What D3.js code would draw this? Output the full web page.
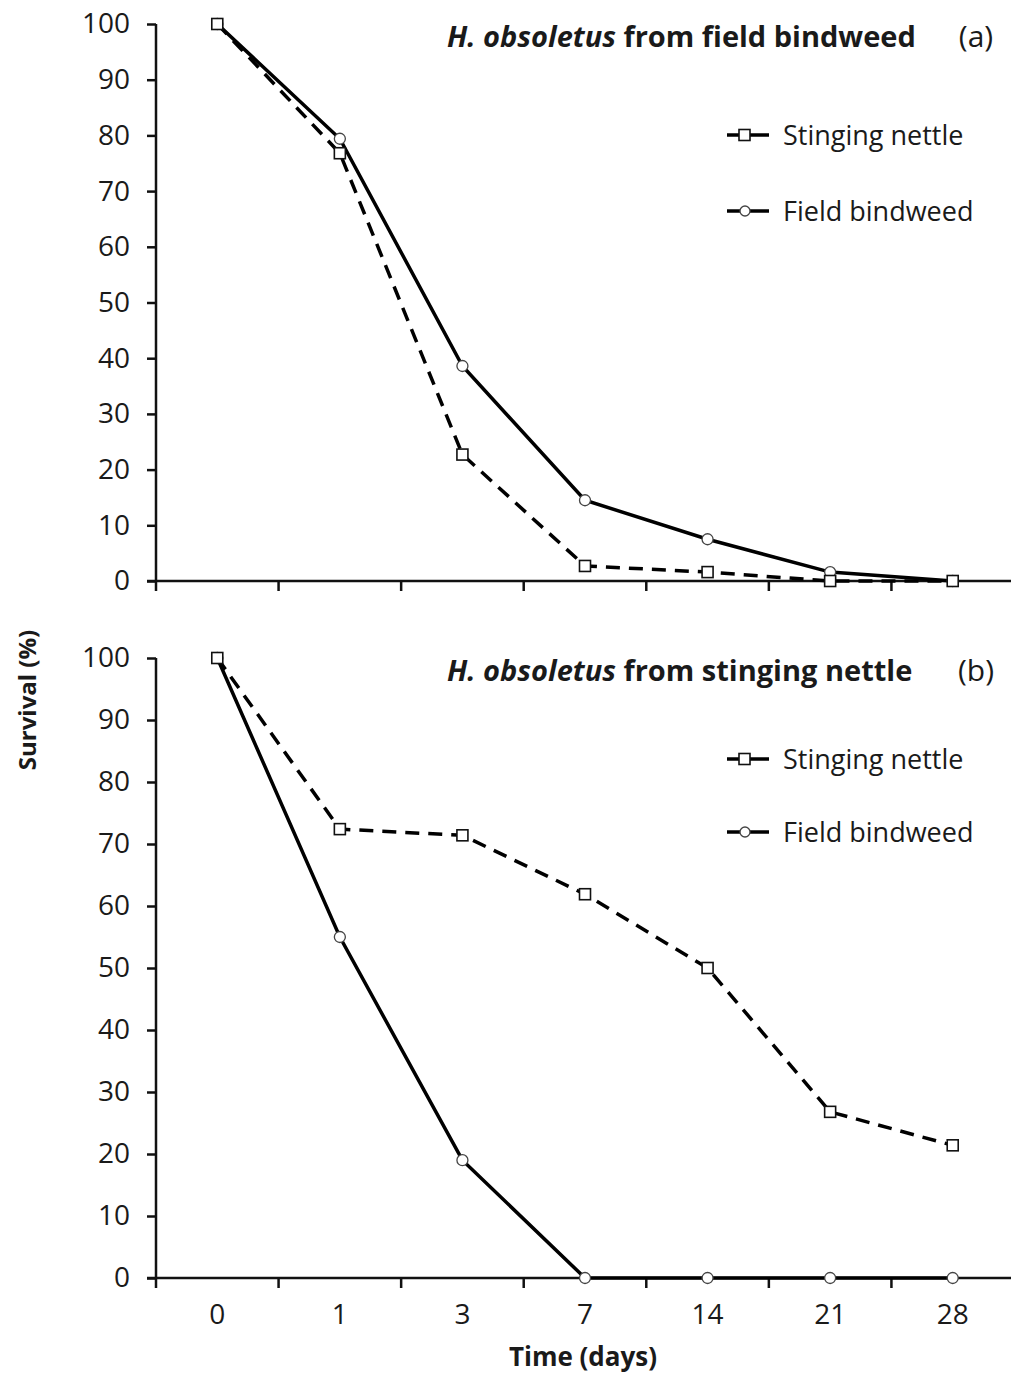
<!DOCTYPE html>
<html>
<head>
<meta charset="utf-8">
<script src="https://cdn.jsdelivr.net/npm/d3@7"></script>
<style>
  body { margin: 0; background: #fff; }
  svg text { font-family: "Open Sans", "Liberation Sans", sans-serif; fill: #1a1a1a; }
</style>
</head>
<body>
<svg id="chart" width="1011" height="1374"></svg>
<script>
// categories on the x axis (days)
var days = ["0", "1", "3", "7", "14", "21", "28"];
var yTicks = [0, 10, 20, 30, 40, 50, 60, 70, 80, 90, 100];

// panel (a): H. obsoletus from field bindweed
var nettleA = [100, 76.8, 22.7, 2.7, 1.6, 0, 0];
var bindweedA = [100, 79.4, 38.6, 14.5, 7.5, 1.6, 0];

// panel (b): H. obsoletus from stinging nettle
var nettleB = [100, 72.4, 71.4, 61.9, 50, 26.8, 21.4];
var bindweedB = [100, 55, 19, 0, 0, 0, 0];

var svg = d3.select("#chart");

var x = d3.scaleBand()
  .domain(days)
  .range([156, 1014]);

function drawPanel(top, bottom, nettle, bindweed, titleText, tag, legendY, showXLabels) {
  var y = d3.scaleLinear().domain([0, 100]).range([bottom, top]);
  var g = svg.append("g");

  // y axis
  var yAxis = g.append("g")
    .attr("transform", "translate(156,0)")
    .call(d3.axisLeft(y).tickValues(yTicks).tickSize(9).tickPadding(17).tickSizeOuter(0));
  yAxis.select(".domain").attr("stroke", "#111").attr("stroke-width", 2.5)
    .attr("d", "M0," + y(100) + "V" + y(0));
  yAxis.selectAll(".tick line").attr("stroke", "#111").attr("stroke-width", 2.5);
  yAxis.selectAll(".tick text").style("font-size", "28px").attr("fill", "#1a1a1a");

  // x axis line + ticks at band boundaries
  g.append("line")
    .attr("x1", 147).attr("x2", 1011)
    .attr("y1", y(0)).attr("y2", y(0))
    .attr("stroke", "#111").attr("stroke-width", 2.5);
  g.selectAll(".xtick")
    .data(days)
    .enter()
    .append("line")
    .attr("x1", function(d) { return x(d); })
    .attr("x2", function(d) { return x(d); })
    .attr("y1", y(0))
    .attr("y2", y(0) + 10)
    .attr("stroke", "#111").attr("stroke-width", 2.5);

  if (showXLabels) {
    g.selectAll(".xlab")
      .data(days)
      .enter()
      .append("text")
      .attr("x", function(d) { return x(d) + x.bandwidth() / 2; })
      .attr("y", y(0) + 46)
      .attr("text-anchor", "middle")
      .style("font-size", "28px")
      .text(function(d) { return d; });
  }

  var line = d3.line()
    .x(function(d, i) { return x(days[i]) + x.bandwidth() / 2; })
    .y(function(d) { return y(d); });

  g.append("path")
    .datum(nettle)
    .attr("d", line)
    .attr("fill", "none")
    .attr("stroke", "#000")
    .attr("stroke-width", 3.5)
    .attr("stroke-dasharray", "14,9");

  g.append("path")
    .datum(bindweed)
    .attr("d", line)
    .attr("fill", "none")
    .attr("stroke", "#000")
    .attr("stroke-width", 3.5);

  // markers
  g.selectAll(".circ")
    .data(bindweed)
    .enter()
    .append("circle")
    .attr("cx", function(d, i) { return x(days[i]) + x.bandwidth() / 2; })
    .attr("cy", function(d) { return y(d); })
    .attr("r", 5.5)
    .attr("fill", "#fff")
    .attr("stroke", "#444")
    .attr("stroke-width", 1.3);

  g.selectAll(".sq")
    .data(nettle)
    .enter()
    .append("rect")
    .attr("x", function(d, i) { return x(days[i]) + x.bandwidth() / 2 - 5.5; })
    .attr("y", function(d) { return y(d) - 5.5; })
    .attr("width", 11)
    .attr("height", 11)
    .attr("fill", "#fff")
    .attr("stroke", "#111")
    .attr("stroke-width", 1.6);

  // title
  var t = g.append("text")
    .attr("x", 447)
    .attr("y", top + 23)
    .style("font-size", "29px")
    .style("font-weight", "bold");
  t.append("tspan").style("font-style", "italic").text("H. obsoletus");
  t.append("tspan").text(" " + titleText);

  g.append("text")
    .attr("x", 976)
    .attr("y", top + 23)
    .attr("text-anchor", "middle")
    .style("font-size", "30px")
    .text(tag);

  // legend
  var leg = [
    {name: "Stinging nettle", shape: "square", y: legendY[0]},
    {name: "Field bindweed", shape: "circle", y: legendY[1]}
  ];
  leg.forEach(function(l) {
    g.append("line")
      .attr("x1", 727).attr("x2", 769)
      .attr("y1", l.y).attr("y2", l.y)
      .attr("stroke", "#000").attr("stroke-width", 3.5);
    if (l.shape == "square") {
      g.append("rect")
        .attr("x", 739).attr("y", l.y - 5.5)
        .attr("width", 11).attr("height", 11)
        .attr("fill", "#fff").attr("stroke", "#111").attr("stroke-width", 1.6);
    } else {
      g.append("circle")
        .attr("cx", 745).attr("cy", l.y).attr("r", 5)
        .attr("fill", "#fff").attr("stroke", "#444").attr("stroke-width", 1.3);
    }
    g.append("text")
      .attr("x", 783)
      .attr("y", l.y + 10)
      .style("font-size", "27px")
      .text(l.name);
  });
}

drawPanel(24, 581, nettleA, bindweedA, "from field bindweed", "(a)", [135, 211], false);
drawPanel(658, 1278, nettleB, bindweedB, "from stinging nettle", "(b)", [759, 832], true);

// axis titles
svg.append("text")
  .attr("transform", "translate(36,700) rotate(-90)")
  .attr("text-anchor", "middle")
  .style("font-size", "24px")
  .style("font-weight", "bold")
  .text("Survival (%)");

svg.append("text")
  .attr("x", 583)
  .attr("y", 1366)
  .attr("text-anchor", "middle")
  .style("font-size", "26px")
  .style("font-weight", "bold")
  .text("Time (days)");
</script>
</body>
</html>
